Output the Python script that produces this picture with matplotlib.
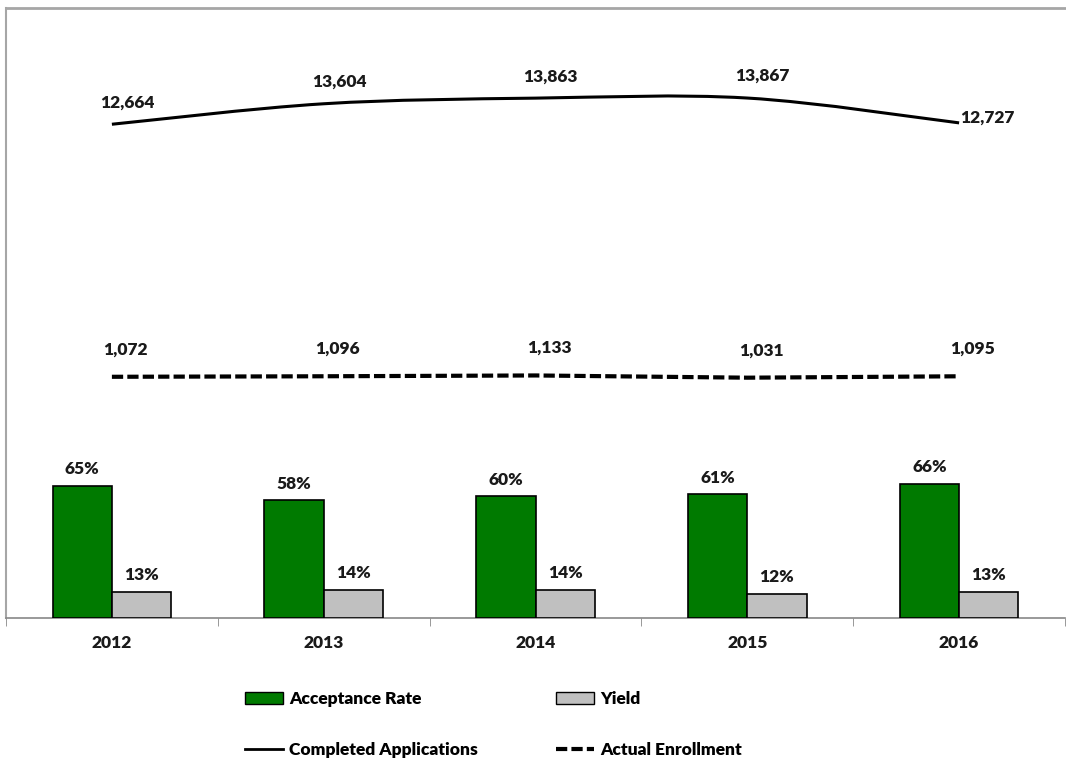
import numpy as np
import matplotlib.pyplot as plt
from matplotlib.path import Path
from matplotlib.patches import PathPatch
from matplotlib.lines import Line2D
from matplotlib.patches import Patch

plt.rcParams['font.family'] = ['Lato', 'DejaVu Sans']
plt.rcParams['font.weight'] = 'heavy'

#Chart data
years = ['2012', '2013', '2014', '2015', '2016']
acceptance = [65, 58, 60, 61, 66]
yield_rate = [13, 14, 14, 12, 13]
applications = [12664, 13604, 13863, 13867, 12727]
enrollment = [1072, 1096, 1133, 1031, 1095]

green = '#007A00'
grey = '#C0C0C0'
txt = '#1a1a1a'
dash = (0, (2.7, 1.0))
fs = 12.5

fig = plt.figure(figsize=(10.66, 7.78), dpi=100)
ax = fig.add_axes([6/1066, 160/778, 1059/1066, 610/778])
x = np.arange(len(years))
w = 0.28

#Bars (primary axis, percent)
ax.bar(x - w/2, acceptance, w, color=green, edgecolor='black', linewidth=1.2, zorder=3)
ax.bar(x + w/2, yield_rate, w, color=grey, edgecolor='black', linewidth=1.2, zorder=3)
for xi, v in zip(x, acceptance):
    ax.annotate(f'{v}%', (xi - w/2, v), xytext=(0, 6), textcoords='offset points',
                ha='center', va='bottom', fontsize=fs, fontweight='heavy', color=txt)
for xi, v in zip(x, yield_rate):
    ax.annotate(f'{v}%', (xi + w/2, v), xytext=(0, 6), textcoords='offset points',
                ha='center', va='bottom', fontsize=fs, fontweight='heavy', color=txt)

ax.set_xlim(-0.5, len(years) - 0.5)
ax.set_ylim(0, 300)
ax.set_yticks([])
ax.set_xticks(x)
ax.set_xticklabels(years, fontsize=fs, fontweight='heavy', color=txt)
ax.tick_params(axis='x', which='major', length=0, pad=12)
ax.set_xticks(np.arange(len(years) + 1) - 0.5, minor=True)
ax.tick_params(axis='x', which='minor', length=6, color='#888888', direction='out')
ax.spines['right'].set_visible(False)
ax.spines['top'].set_color('#A6A6A6')
ax.spines['left'].set_color('#A6A6A6')
ax.spines['top'].set_linewidth(2)
ax.spines['left'].set_linewidth(1.5)
ax.spines['bottom'].set_color('#888888')
ax.spines['bottom'].set_linewidth(1.2)

#Lines (secondary axis, counts)
ax2 = ax.twinx()
ax2.set_ylim(-10000, 18000)
ax2.axis('off')

#smoothed line through the points (Catmull-Rom as bezier)
pts = np.column_stack([x, applications]).astype(float)
verts = [pts[0]]
codes = [Path.MOVETO]
for i in range(len(pts) - 1):
    p0 = pts[i - 1] if i > 0 else pts[i]
    p1 = pts[i]
    p2 = pts[i + 1]
    p3 = pts[i + 2] if i + 2 < len(pts) else pts[i + 1]
    verts += [p1 + (p2 - p0) / 6, p2 - (p3 - p1) / 6, p2]
    codes += [Path.CURVE4] * 3
ax2.add_patch(PathPatch(Path(verts, codes), facecolor='none', edgecolor='black', linewidth=2.2, zorder=4))

ax2.plot(x, enrollment, color='black', linewidth=3, linestyle=dash, zorder=4)

for i, v in enumerate(applications):
    if i == len(applications) - 1:
        ax2.annotate(f'{v:,}', (x[i], v), xytext=(1, 4), textcoords='offset points',
                     ha='left', va='center', fontsize=fs, fontweight='heavy', color=txt)
    else:
        ax2.annotate(f'{v:,}', (x[i], v), xytext=(11, 10), textcoords='offset points',
                     ha='center', va='bottom', fontsize=fs, fontweight='heavy', color=txt)
for i, v in enumerate(enrollment):
    ax2.annotate(f'{v:,}', (x[i], v), xytext=(10, 14), textcoords='offset points',
                 ha='center', va='bottom', fontsize=fs, fontweight='heavy', color=txt)

#Legend
handles = [Patch(facecolor=green, edgecolor='black', label='Acceptance Rate'),
           Line2D([0], [0], color='black', linewidth=2, label='Completed Applications'),
           Patch(facecolor=grey, edgecolor='black', label='Yield'),
           Line2D([0], [0], color='black', linewidth=3, linestyle=dash, label='Actual Enrollment')]
fig.legend(handles=handles, ncol=2, loc='upper left', bbox_to_anchor=(245/1066, 1 - 691/778),
           frameon=False, borderpad=0, borderaxespad=0,
           handlelength=2.2, handleheight=0.75, handletextpad=0.35, columnspacing=4.5,
           labelspacing=2.0, prop={'weight': 'heavy', 'size': fs})

fig.savefig('out.png', dpi=100)
